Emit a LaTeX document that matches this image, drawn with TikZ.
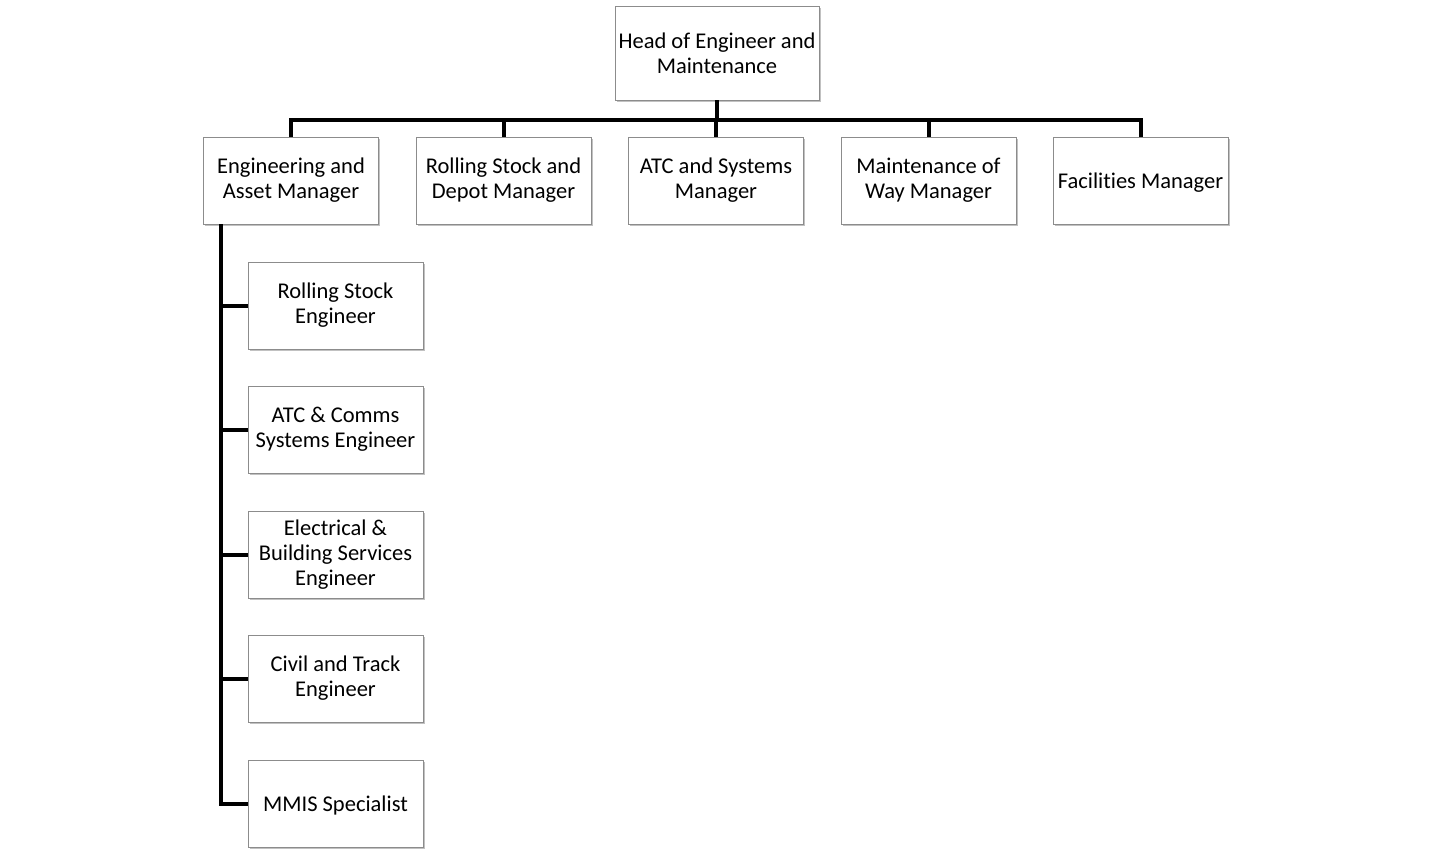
\documentclass[tikz,border=0pt]{standalone}
\usepackage{fontspec}
\setmainfont{Carlito}[Ligatures=NoCommon]
\usetikzlibrary{shadows}
\begin{document}
\begin{tikzpicture}[x=1pt,y=-1pt,
  box/.style={draw=black!45, line width=0.9pt, fill=white, minimum width=175pt, minimum height=87pt,
    align=center, inner sep=1pt, font=\fontsize{22.5}{25}\selectfont,
    execute at begin node={\rule{0pt}{20pt}},
    drop shadow={shadow xshift=1.8pt, shadow yshift=-2.2pt, opacity=0.4, fill=black!60}},
  conn/.style={line width=4pt, black}]
\useasboundingbox[fill=white] (0,0) rectangle (1432,860);
% top
\node[box, minimum width=204pt, minimum height=94pt, execute at begin node={}] (head) at (717,53) {Head of Engineer and\\Maintenance};
% second row
\node[box] (eam) at (291,180.5) {Engineering and\\Asset Manager};
\node[box] (rsd) at (503.5,180.5) {Rolling Stock and\\Depot Manager};
\node[box] (atc) at (716,180.5) {ATC and Systems\\Manager};
\node[box] (mow) at (928.5,180.5) {Maintenance of\\Way Manager};
\node[box] (fac) at (1140.5,180.5) {Facilities Manager};
% children
\node[box] (c1) at (335.5,305.5) {Rolling Stock\\Engineer};
\node[box] (c2) at (335.5,429.5) {ATC \& Comms\\Systems Engineer};
\node[box] (c3) at (335.5,554.5) {Electrical \&\\Building Services\\Engineer};
\node[box] (c4) at (335.5,678.5) {Civil and Track\\Engineer};
\node[box] (c5) at (335.5,803.5) {MMIS Specialist};
% connectors
\coordinate (bus) at (717,120);
\draw[conn] (head.south) -- (bus);
\draw[conn] (eam.north) |- (bus) -| (fac.north);
\draw[conn] (rsd.north) -- (rsd.north |- bus);
\draw[conn] (atc.north) -- (atc.north |- bus);
\draw[conn] (mow.north) -- (mow.north |- bus);
\coordinate (spine) at (221,0);
\draw[conn] (eam.south -| spine) -- (c5.west -| spine) -- (c5.west);
\foreach \c in {c1,c2,c3,c4}{\draw[conn] (\c.west -| spine) -- (\c.west);}
\end{tikzpicture}
\end{document}
